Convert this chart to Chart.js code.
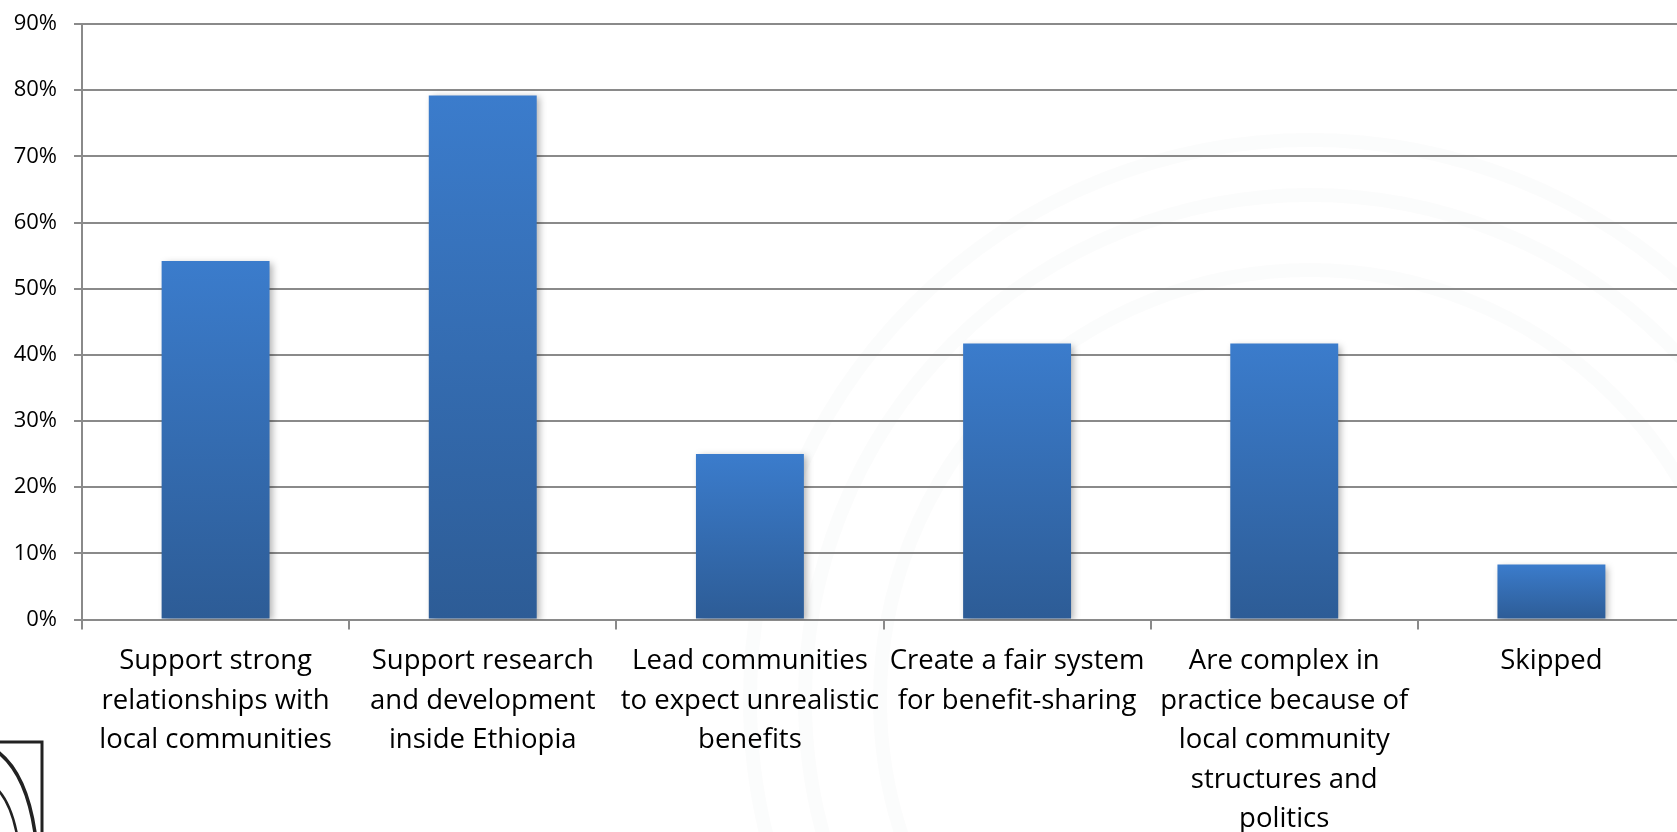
<!DOCTYPE html>
<html>
<head>
<meta charset="utf-8">
<script src="https://cdn.jsdelivr.net/npm/chart.js@4"></script>
<style>
  html, body { margin: 0; padding: 0; background: #fff; overflow: hidden; }
  #wrap { position: absolute; left: 0; top: 0; width: 1700px; height: 832px; }
</style>
</head>
<body>
<div id="wrap"><canvas id="chart" width="1700" height="832"></canvas></div>
<script>
  const categories = [
    ['Support strong', 'relationships with', 'local communities'],
    ['Support research', 'and development', 'inside Ethiopia'],
    ['Lead communities', 'to expect unrealistic', 'benefits'],
    ['Create a fair system', 'for benefit-sharing'],
    ['Are complex in', 'practice because of', 'local community', 'structures and', 'politics'],
    ['Skipped']
  ];
  const percentages = [54.2, 79.2, 25.0, 41.7, 41.7, 8.3];
  const yTicks = [0, 10, 20, 30, 40, 50, 60, 70, 80, 90];

  const gridGray = '#8a8a8a';
  const fontFamily = '"Open Sans", "Noto Sans", sans-serif';

  // each bar gets its own vertical gradient, light at the top, darker at the base
  function barFill(ctx) {
    const chart = ctx.chart;
    if (ctx.type !== 'data' || !chart.chartArea) return '#3572bb';
    const y = chart.scales.y;
    const top = y.getPixelForValue(ctx.raw);
    const base = y.getPixelForValue(0);
    const g = chart.ctx.createLinearGradient(0, top, 0, base);
    g.addColorStop(0, '#3b7ccc');
    g.addColorStop(1, '#2d5c96');
    return g;
  }

  // faint seal in the background and the corner logo
  const backdrop = {
    id: 'backdrop',
    beforeDraw(chart) {
      const c = chart.ctx;
      c.save();
      c.strokeStyle = 'rgba(30, 70, 70, 0.015)';
      c.lineWidth = 14;
      [560, 505, 430].forEach(r => {
        c.beginPath();
        c.arc(1310, 700, r, 0, Math.PI * 2);
        c.stroke();
      });
      c.restore();
    },
    afterDraw(chart) {
      const c = chart.ctx;
      c.save();
      c.strokeStyle = '#222';
      c.lineWidth = 3;
      c.beginPath();
      c.moveTo(-5, 742);
      c.lineTo(42, 742);
      c.lineTo(42, 840);
      c.stroke();
      c.lineWidth = 3.5;
      c.beginPath();
      c.moveTo(-2, 752);
      c.quadraticCurveTo(28, 775, 36, 840);
      c.stroke();
      c.lineWidth = 2.5;
      c.beginPath();
      c.moveTo(-2, 790);
      c.quadraticCurveTo(12, 805, 18, 840);
      c.stroke();
      c.restore();
    }
  };

  // soft drop shadow behind the bars
  const barShadow = {
    id: 'barShadow',
    beforeDatasetDraw(chart) {
      const c = chart.ctx;
      c.save();
      c.shadowColor = 'rgba(0, 0, 0, 0.3)';
      c.shadowBlur = 7;
      c.shadowOffsetX = 3;
      c.shadowOffsetY = 2;
    },
    afterDatasetDraw(chart) {
      chart.ctx.restore();
    }
  };

  new Chart(document.getElementById('chart'), {
    type: 'bar',
    data: {
      labels: categories,
      datasets: [{
        data: percentages,
        backgroundColor: barFill,
        borderWidth: 0,
        categoryPercentage: 1,
        barPercentage: 0.404
      }]
    },
    options: {
      responsive: false,
      animation: false,
      layout: { padding: { top: 24, right: 15, left: 0, bottom: 0 } },
      plugins: { legend: { display: false }, tooltip: { enabled: false } },
      scales: {
        x: {
          afterFit(scale) { scale.height = 212.5; },
          grid: {
            offset: true,
            drawOnChartArea: false,
            drawTicks: true,
            tickLength: 10,
            color: gridGray,
            lineWidth: 2
          },
          border: { display: true, color: gridGray, width: 2 },
          ticks: {
            padding: 12,
            maxRotation: 0,
            autoSkip: false,
            color: '#000',
            font: { family: fontFamily, size: 27.5, lineHeight: '39.5px' }
          }
        },
        y: {
          min: yTicks[0],
          max: yTicks[yTicks.length - 1],
          afterFit(scale) {
            scale.width = 82;
            scale.paddingTop = 0;
            scale.paddingBottom = 0;
          },
          afterBuildTicks(scale) { scale.ticks = yTicks.map(v => ({ value: v })); },
          grid: { color: gridGray, lineWidth: 2, tickLength: 8 },
          border: { display: true, color: gridGray, width: 2 },
          ticks: {
            padding: 17,
            color: '#000',
            font: { family: fontFamily, size: 22 },
            callback: v => v + '%'
          }
        }
      }
    },
    plugins: [backdrop, barShadow]
  });
</script>
</body>
</html>
